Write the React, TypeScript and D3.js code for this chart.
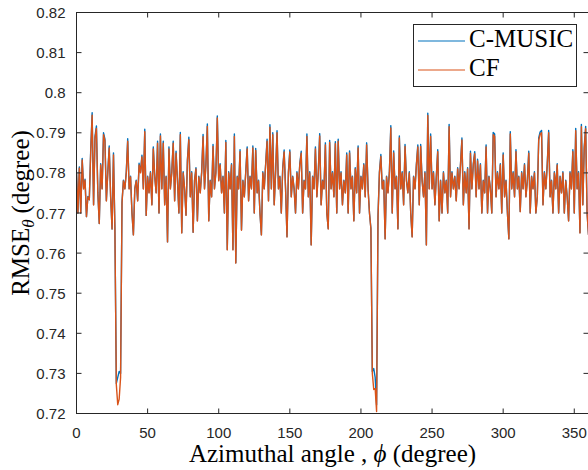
import * as d3 from 'd3';
import React from 'react';

// azimuthal angle, one sample per degree
const angles = d3.range(0, 361);

const cfValues = [
  0.7800, 0.7700, 0.7812, 0.7700, 0.7832, 0.7760, 0.7782, 0.7691, 0.7740, 0.7733,
  0.7853, 0.7944, 0.7720, 0.7886, 0.7911, 0.7750, 0.7674, 0.7820, 0.7760, 0.7895,
  0.7879, 0.7730, 0.7800, 0.7862, 0.7740, 0.7660, 0.7845, 0.7660, 0.7272, 0.7222,
  0.7236, 0.7290, 0.7725, 0.7780, 0.7760, 0.7800, 0.7879, 0.7760, 0.7790, 0.7700,
  0.7645, 0.7760, 0.7780, 0.7730, 0.7820, 0.7800, 0.7840, 0.7760, 0.7903, 0.7694,
  0.7790, 0.7750, 0.7800, 0.7720, 0.7860, 0.7790, 0.7750, 0.7874, 0.7700, 0.7892,
  0.7760, 0.7874, 0.7720, 0.7790, 0.7628, 0.7860, 0.7760, 0.7800, 0.7874, 0.7730,
  0.7849, 0.7780, 0.7700, 0.7895, 0.7650, 0.7800, 0.7760, 0.7694, 0.7830, 0.7883,
  0.7740, 0.7800, 0.7652, 0.7780, 0.7810, 0.7680, 0.7790, 0.7750, 0.7800, 0.7890,
  0.7760, 0.7820, 0.7916, 0.7680, 0.7780, 0.7740, 0.7866, 0.7760, 0.7800, 0.7937,
  0.7780, 0.7820, 0.7750, 0.7790, 0.7700, 0.7876, 0.7608, 0.7800, 0.7760, 0.7820,
  0.7608, 0.7891, 0.7575, 0.7790, 0.7760, 0.7853, 0.7657, 0.7780, 0.7740, 0.7800,
  0.7860, 0.7730, 0.7790, 0.7760, 0.7862, 0.7700, 0.7856, 0.7750, 0.7780, 0.7700,
  0.7645, 0.7800, 0.7760, 0.7820, 0.7879, 0.7730, 0.7914, 0.7760, 0.7895, 0.7720,
  0.7800, 0.7900, 0.7760, 0.7790, 0.7700, 0.7810, 0.7852, 0.7760, 0.7640, 0.7800,
  0.7852, 0.7740, 0.7790, 0.7760, 0.7700, 0.7800, 0.7760, 0.7820, 0.7849, 0.7700,
  0.7780, 0.7760, 0.7891, 0.7740, 0.7800, 0.7620, 0.7790, 0.7760, 0.7860, 0.7740,
  0.7800, 0.7892, 0.7720, 0.7780, 0.7760, 0.7870, 0.7700, 0.7660, 0.7876, 0.7760,
  0.7800, 0.7740, 0.7873, 0.7700, 0.7879, 0.7760, 0.7800, 0.7720, 0.7780, 0.7750,
  0.7845, 0.7700, 0.7850, 0.7760, 0.7790, 0.7680, 0.7810, 0.7750, 0.7862, 0.7700,
  0.7790, 0.7760, 0.7820, 0.7740, 0.7870, 0.7760, 0.7700, 0.7660, 0.7300, 0.7260,
  0.7262, 0.7205, 0.7690, 0.7800, 0.7841, 0.7760, 0.7780, 0.7635, 0.7790, 0.7750,
  0.7800, 0.7912, 0.7700, 0.7850, 0.7760, 0.7790, 0.7660, 0.7887, 0.7760, 0.7800,
  0.7720, 0.7866, 0.7780, 0.7750, 0.7800, 0.7700, 0.7640, 0.7790, 0.7760, 0.7820,
  0.7865, 0.7720, 0.7866, 0.7780, 0.7740, 0.7800, 0.7620, 0.7943, 0.7760, 0.7891,
  0.7760, 0.7800, 0.7720, 0.7790, 0.7853, 0.7680, 0.7780, 0.7700, 0.7800, 0.7750,
  0.7780, 0.7700, 0.7915, 0.7740, 0.7800, 0.7760, 0.7790, 0.7730, 0.7810, 0.7760,
  0.7820, 0.7882, 0.7720, 0.7800, 0.7750, 0.7810, 0.7660, 0.7849, 0.7760, 0.7820,
  0.7848, 0.7740, 0.7830, 0.7760, 0.7820, 0.7700, 0.7780, 0.7750, 0.7865, 0.7700,
  0.7790, 0.7760, 0.7700, 0.7895, 0.7891, 0.7740, 0.7800, 0.7760, 0.7820, 0.7700,
  0.7845, 0.7740, 0.7780, 0.7700, 0.7635, 0.7897, 0.7760, 0.7800, 0.7740, 0.7853,
  0.7760, 0.7790, 0.7703, 0.7800, 0.7760, 0.7820, 0.7740, 0.7780, 0.7849, 0.7700,
  0.7790, 0.7760, 0.7800, 0.7700, 0.7740, 0.7882, 0.7896, 0.7900, 0.7720, 0.7800,
  0.7760, 0.7820, 0.7900, 0.7740, 0.7780, 0.7700, 0.7800, 0.7760, 0.7820, 0.7700,
  0.7790, 0.7750, 0.7800, 0.7700, 0.7780, 0.7740, 0.7680, 0.7800, 0.7760, 0.7853,
  0.7700, 0.7905, 0.7760, 0.7800, 0.7650, 0.7915, 0.7720, 0.7860, 0.7910, 0.7700,
  0.7645,
];

const cmusicValues = [
  0.7803, 0.7700, 0.7815, 0.7700, 0.7836, 0.7762, 0.7784, 0.7691, 0.7741, 0.7733,
  0.7858, 0.7950, 0.7721, 0.7891, 0.7917, 0.7752, 0.7674, 0.7823, 0.7761, 0.7900,
  0.7884, 0.7731, 0.7802, 0.7867, 0.7741, 0.7660, 0.7850, 0.7662, 0.7275, 0.7290,
  0.7305, 0.7300, 0.7728, 0.7782, 0.7761, 0.7803, 0.7885, 0.7761, 0.7792, 0.7700,
  0.7646, 0.7761, 0.7782, 0.7731, 0.7824, 0.7802, 0.7844, 0.7761, 0.7909, 0.7694,
  0.7792, 0.7751, 0.7803, 0.7721, 0.7865, 0.7792, 0.7751, 0.7879, 0.7700, 0.7897,
  0.7761, 0.7879, 0.7721, 0.7792, 0.7628, 0.7865, 0.7761, 0.7803, 0.7879, 0.7731,
  0.7854, 0.7782, 0.7700, 0.7901, 0.7651, 0.7803, 0.7761, 0.7695, 0.7834, 0.7889,
  0.7741, 0.7803, 0.7652, 0.7782, 0.7813, 0.7681, 0.7792, 0.7751, 0.7803, 0.7896,
  0.7761, 0.7823, 0.7922, 0.7681, 0.7782, 0.7741, 0.7871, 0.7761, 0.7803, 0.7942,
  0.7782, 0.7823, 0.7751, 0.7792, 0.7700, 0.7881, 0.7609, 0.7803, 0.7761, 0.7823,
  0.7609, 0.7897, 0.7576, 0.7792, 0.7761, 0.7858, 0.7658, 0.7782, 0.7741, 0.7803,
  0.7865, 0.7731, 0.7792, 0.7761, 0.7867, 0.7700, 0.7861, 0.7751, 0.7782, 0.7700,
  0.7646, 0.7803, 0.7761, 0.7823, 0.7884, 0.7731, 0.7920, 0.7761, 0.7900, 0.7721,
  0.7803, 0.7905, 0.7761, 0.7792, 0.7700, 0.7813, 0.7857, 0.7761, 0.7641, 0.7803,
  0.7857, 0.7741, 0.7792, 0.7761, 0.7700, 0.7803, 0.7761, 0.7823, 0.7854, 0.7700,
  0.7782, 0.7761, 0.7897, 0.7741, 0.7803, 0.7621, 0.7792, 0.7761, 0.7865, 0.7741,
  0.7803, 0.7898, 0.7721, 0.7782, 0.7761, 0.7875, 0.7700, 0.7661, 0.7881, 0.7761,
  0.7803, 0.7741, 0.7878, 0.7700, 0.7884, 0.7761, 0.7803, 0.7721, 0.7782, 0.7751,
  0.7850, 0.7700, 0.7855, 0.7761, 0.7792, 0.7681, 0.7813, 0.7751, 0.7867, 0.7700,
  0.7792, 0.7761, 0.7823, 0.7741, 0.7875, 0.7761, 0.7700, 0.7662, 0.7305, 0.7312,
  0.7290, 0.7222, 0.7695, 0.7803, 0.7846, 0.7761, 0.7782, 0.7636, 0.7792, 0.7751,
  0.7803, 0.7918, 0.7700, 0.7855, 0.7761, 0.7792, 0.7661, 0.7892, 0.7761, 0.7803,
  0.7721, 0.7871, 0.7782, 0.7751, 0.7803, 0.7700, 0.7641, 0.7792, 0.7761, 0.7823,
  0.7870, 0.7721, 0.7871, 0.7782, 0.7741, 0.7803, 0.7621, 0.7949, 0.7761, 0.7897,
  0.7761, 0.7803, 0.7721, 0.7792, 0.7858, 0.7681, 0.7782, 0.7700, 0.7803, 0.7751,
  0.7782, 0.7700, 0.7921, 0.7741, 0.7803, 0.7761, 0.7792, 0.7731, 0.7813, 0.7761,
  0.7823, 0.7887, 0.7721, 0.7803, 0.7751, 0.7813, 0.7661, 0.7854, 0.7761, 0.7823,
  0.7853, 0.7741, 0.7834, 0.7761, 0.7823, 0.7700, 0.7782, 0.7751, 0.7870, 0.7700,
  0.7792, 0.7761, 0.7700, 0.7901, 0.7897, 0.7741, 0.7803, 0.7761, 0.7823, 0.7700,
  0.7850, 0.7741, 0.7782, 0.7700, 0.7636, 0.7903, 0.7761, 0.7803, 0.7741, 0.7858,
  0.7761, 0.7792, 0.7704, 0.7803, 0.7761, 0.7823, 0.7741, 0.7782, 0.7854, 0.7700,
  0.7792, 0.7761, 0.7803, 0.7700, 0.7741, 0.7887, 0.7902, 0.7906, 0.7721, 0.7803,
  0.7761, 0.7823, 0.7906, 0.7741, 0.7782, 0.7700, 0.7803, 0.7761, 0.7823, 0.7700,
  0.7792, 0.7751, 0.7803, 0.7700, 0.7782, 0.7741, 0.7681, 0.7803, 0.7761, 0.7858,
  0.7700, 0.7911, 0.7761, 0.7803, 0.7651, 0.7921, 0.7721, 0.7865, 0.7916, 0.7700,
  0.7646,
];

const xTicks = [0, 50, 100, 150, 200, 250, 300, 350];
const yTicks = [0.72, 0.73, 0.74, 0.75, 0.76, 0.77, 0.78, 0.79, 0.8, 0.81, 0.82];
const seriesNames = ['C-MUSIC', 'CF'];

const params = {
  width: 588,
  height: 470,
  left: 76.5,
  right: 588.5,
  top: 12.5,
  bottom: 413.5,
  tick: 5,
};

const colors = ['#0072BD', '#D95319'];
const axisColor = '#262626';
const tickFont = '"Liberation Sans", Arial, Helvetica, sans-serif';
const texFont = '"Liberation Serif", "Times New Roman", serif';

export default function App() {
  const x = d3.scaleLinear().domain([0, 360]).range([params.left, params.right]);
  const y = d3.scaleLinear().domain([0.72, 0.82]).range([params.bottom, params.top]);

  const line = d3.line<number>()
    .x((d, i) => x(angles[i]))
    .y(d => y(d));

  const series = [cmusicValues, cfValues];
  const midY = (params.top + params.bottom) / 2;
  const midX = (params.left + params.right) / 2;

  return (
    <svg width={params.width} height={params.height}
      style={{ position: 'absolute', left: 0, top: 0, background: '#fff', display: 'block' }}>
      <defs>
        <clipPath id="plotArea">
          <rect x={params.left} y={params.top} width={params.right - params.left} height={params.bottom - params.top} />
        </clipPath>
      </defs>

      <g clipPath="url(#plotArea)">
        {series.map((s, i) => (
          <path key={seriesNames[i]} d={line(s) || ''} fill="none" stroke={colors[i]}
            strokeWidth={1.4} strokeLinejoin="round" />
        ))}
      </g>

      {/* box */}
      <rect x={params.left} y={params.top} width={params.right - params.left} height={params.bottom - params.top}
        fill="none" stroke={axisColor} strokeWidth={1} />

      {/* x ticks */}
      {xTicks.map(t => (
        <g key={'x' + t}>
          <line x1={x(t)} x2={x(t)} y1={params.bottom} y2={params.bottom - params.tick} stroke={axisColor} />
          <line x1={x(t)} x2={x(t)} y1={params.top} y2={params.top + params.tick} stroke={axisColor} />
          <text x={x(t)} y={437.5} textAnchor="middle" fontFamily={tickFont} fontSize={15} fill={axisColor}>{t}</text>
        </g>
      ))}

      {/* y ticks */}
      {yTicks.map(t => (
        <g key={'y' + t}>
          <line x1={params.left} x2={params.left + params.tick} y1={y(t)} y2={y(t)} stroke={axisColor} />
          <line x1={params.right} x2={params.right - params.tick} y1={y(t)} y2={y(t)} stroke={axisColor} />
          <text x={params.left - 11} y={y(t) + 5.5} textAnchor="end" fontFamily={tickFont} fontSize={15} fill={axisColor}>
            {String(+t.toFixed(2))}
          </text>
        </g>
      ))}

      {/* axis titles */}
      <text x={midX} y={461.5} textAnchor="middle" fontFamily={texFont} fontSize={25} fill="#000">
        Azimuthal angle , <tspan fontStyle="italic">ϕ</tspan> (degree)
      </text>
      <text transform={`translate(29,${midY}) rotate(-90)`} textAnchor="middle" fontFamily={texFont} fontSize={25} fill="#000">
        RMSE<tspan fontStyle="italic" fontSize={17} dy={5}>θ</tspan><tspan dy={-5} dx={6}>(degree)</tspan>
      </text>

      {/* legend */}
      <g>
        <rect x={413.5} y={24.5} width={163} height={62} fill="#fff" stroke={axisColor} strokeWidth={1} />
        {seriesNames.map((name, i) => (
          <g key={name} transform={`translate(0,${i * 29})`}>
            <line x1={418} x2={465} y1={41} y2={41} stroke={colors[i]} strokeWidth={1.2} />
            <text x={469} y={47} fontFamily={texFont} fontSize={25} fill="#000">{name}</text>
          </g>
        ))}
      </g>
    </svg>
  );
}
